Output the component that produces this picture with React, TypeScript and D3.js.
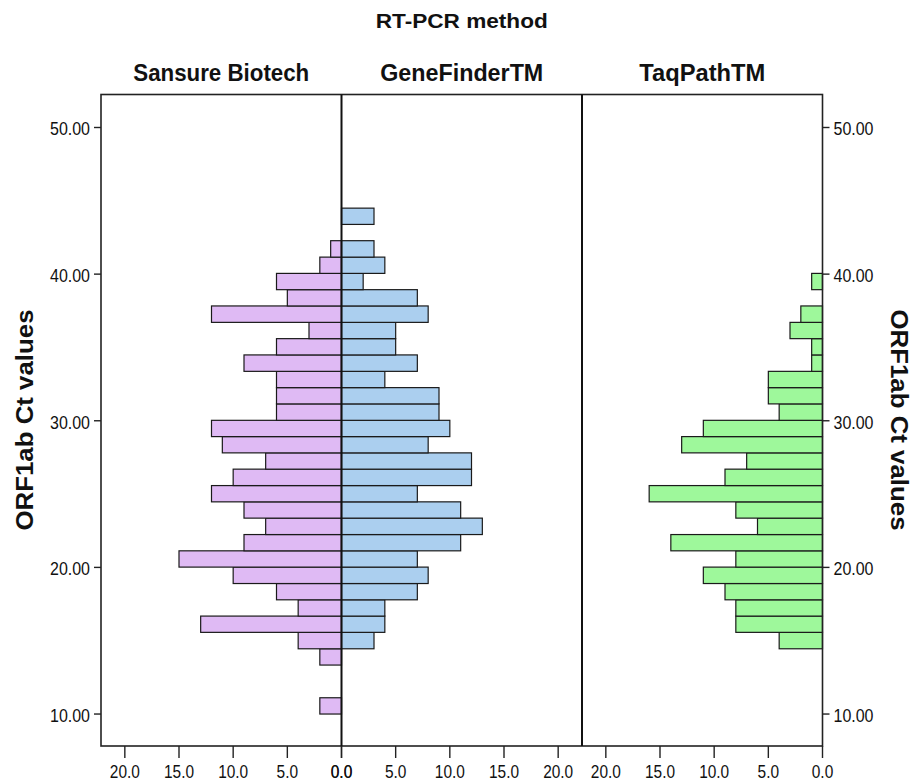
import { useRef, useEffect } from 'react'
import * as d3 from 'd3'

// RT-PCR methods (panels) and histogram bins of ORF1ab Ct values
const methods = ['Sansure Biotech', 'GeneFinderTM', 'TaqPathTM']
const binEdges = [
  10.0, 11.11, 12.23, 13.34, 14.45, 15.57, 16.68, 17.79, 18.9, 20.02, 21.13,
  22.24, 23.36, 24.47, 25.58, 26.7, 27.81, 28.92, 30.03, 31.15, 32.26, 33.37,
  34.49, 35.6, 36.71, 37.83, 38.94, 40.05, 41.16, 42.28, 43.39, 44.5,
]
const sansure = [2, 0, 0, 2, 4, 13, 4, 6, 10, 15, 9, 7, 9, 12, 10, 7, 11, 12, 6, 6, 6, 9, 6, 3, 12, 5, 6, 2, 1, 0, 0]
const geneFinder = [0, 0, 0, 0, 3, 4, 4, 7, 8, 7, 11, 13, 11, 7, 12, 12, 8, 10, 9, 9, 4, 7, 5, 5, 8, 7, 2, 4, 3, 0, 3]
const taqPath = [0, 0, 0, 0, 4, 8, 8, 9, 11, 8, 14, 6, 8, 16, 9, 7, 13, 11, 4, 5, 5, 1, 1, 3, 2, 0, 1, 0, 0, 0, 0]
const countTicks = [0, 5, 10, 15, 20]
const ctTicks = [10, 20, 30, 40, 50]
const fills = ['#dfbaf4', '#abcfef', '#9ef89b']

const FONT = 'Liberation Sans, Arial, sans-serif'

const App = () => {
  const ref = useRef(null)

  useEffect(() => {
    const svg = d3.select(ref.current)
    svg.selectAll('*').remove()

    const left = 101
    const right = 822.5
    const top = 94.5
    const bottom = 746
    const pw = (right - left) / 3

    const y = d3.scaleLinear().domain([7.82, 52.25]).range([bottom, top])
    const xs = [
      d3.scaleLinear().domain([0, 22.2]).range([left + pw, left]),
      d3.scaleLinear().domain([0, 22.2]).range([left + pw, left + 2 * pw]),
      d3.scaleLinear().domain([0, 22.2]).range([right, left + 2 * pw]),
    ]
    const series = [sansure, geneFinder, taqPath]

    const text = (g, str, x, yy, size, weight, len, anchor = 'middle', rot = 0) => {
      const t = g.append('text')
        .attr('transform', `translate(${x},${yy}) rotate(${rot})`)
        .attr('text-anchor', anchor)
        .attr('dy', '0.36em')
        .attr('font-family', FONT)
        .attr('font-size', size)
        .attr('font-weight', weight)
        .attr('fill', '#111')
        .text(str)
      if (len) t.attr('textLength', len).attr('lengthAdjust', 'spacingAndGlyphs')
      return t
    }

    // bars
    series.forEach((vals, p) => {
      const x = xs[p]
      svg.append('g')
        .selectAll('rect')
        .data(vals.map((v, i) => ({ v, lo: binEdges[i], hi: binEdges[i + 1] })).filter((d) => d.v > 0))
        .enter()
        .append('rect')
        .attr('x', (d) => Math.min(x(0), x(d.v)))
        .attr('width', (d) => Math.abs(x(d.v) - x(0)))
        .attr('y', (d) => y(d.hi))
        .attr('height', (d) => y(d.lo) - y(d.hi))
        .style('fill', fills[p])
        .style('stroke', '#1a1a1a')
        .style('stroke-width', 1.2)
    })

    // frame and panel dividers
    svg.append('rect')
      .attr('x', left).attr('y', top)
      .attr('width', right - left).attr('height', bottom - top)
      .style('fill', 'none').style('stroke', '#222').style('stroke-width', 1.6)
    ;[1, 2].forEach((k) => {
      svg.append('line')
        .attr('x1', left + k * pw).attr('x2', left + k * pw)
        .attr('y1', top).attr('y2', bottom)
        .style('stroke', '#111').style('stroke-width', 2)
    })

    // bottom count axes
    const ax = svg.append('g')
    xs.forEach((x) => {
      countTicks.forEach((t) => {
        ax.append('line')
          .attr('x1', x(t)).attr('x2', x(t))
          .attr('y1', bottom).attr('y2', bottom + 12)
          .style('stroke', '#222').style('stroke-width', 1.4)
        const s = d3.format('.1f')(t)
        text(ax, s, x(t), 771, 19, 400, s.length === 4 ? 30 : 21.5)
      })
    })

    // Ct value axes, left and right
    ctTicks.forEach((t) => {
      const s = d3.format('.2f')(t)
      ax.append('line')
        .attr('x1', left - 7).attr('x2', left)
        .attr('y1', y(t)).attr('y2', y(t))
        .style('stroke', '#222').style('stroke-width', 1.4)
      text(ax, s, left - 11, y(t) + 1, 19, 400, 40, 'end')
      ax.append('line')
        .attr('x1', right).attr('x2', right + 7)
        .attr('y1', y(t)).attr('y2', y(t))
        .style('stroke', '#222').style('stroke-width', 1.4)
      text(ax, s, right + 11, y(t) + 1, 19, 400, 40, 'start')
    })

    // titles
    text(svg, 'RT-PCR method', (left + right) / 2, 20, 21, 700, 172)
    const labelLens = [176, 163, 126]
    methods.forEach((m, i) => {
      text(svg, m, left + pw * (i + 0.5), 73, 23, 700, labelLens[i])
    })
    text(svg, 'ORF1ab Ct values', 25, 420, 23, 700, 221, 'middle', -90)
    text(svg, 'ORF1ab Ct values', 899, 420, 23, 700, 221, 'middle', 90)
  }, [])

  return (
    <svg ref={ref} width={918} height={782}
      style={{ position: 'absolute', left: 0, top: 0, background: '#fff' }} />
  )
}

export default App
